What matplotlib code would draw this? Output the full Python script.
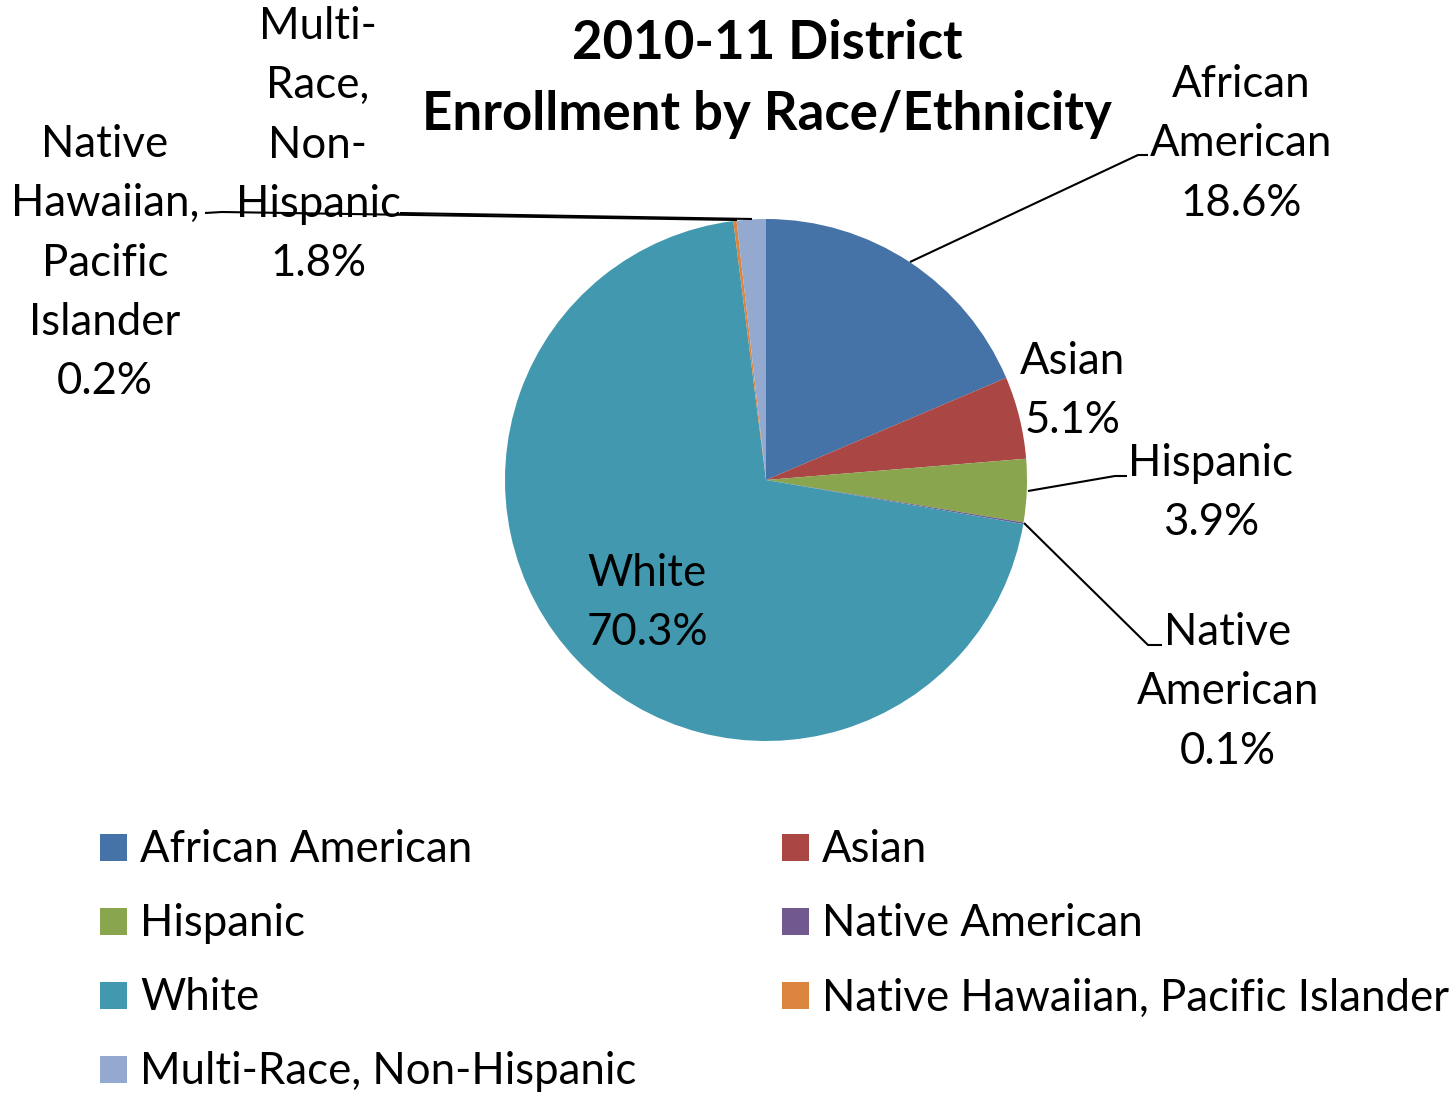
import matplotlib.pyplot as plt
from matplotlib.patches import Rectangle

plt.rcParams['font.family'] = ['Lato', 'DejaVu Sans']

categories = ['African American', 'Asian', 'Hispanic', 'Native American',
              'White', 'Native Hawaiian, Pacific Islander', 'Multi-Race, Non-Hispanic']
shares = [18.6, 5.1, 3.9, 0.1, 70.3, 0.2, 1.8]
colors = ['#4572A7', '#AA4643', '#89A54E', '#71588F', '#4198AF', '#DB843D', '#93A9CF']
slice_labels = ['African\nAmerican', 'Asian', 'Hispanic', 'Native\nAmerican',
                'White', 'Native\nHawaiian,\nPacific\nIslander', 'Multi-\nRace,\nNon-\nHispanic']

W, H = 1456, 1094
fig = plt.figure(figsize=(W / 100, H / 100), dpi=100)
ax = fig.add_axes([0, 0, 1, 1])


def Y(y):
    return H - y


ax.pie(shares, colors=colors, startangle=90, counterclock=False,
       center=(766, Y(480)), radius=261, frame=True,
       wedgeprops=dict(linewidth=0))
ax.set_xlim(0, W)
ax.set_ylim(0, H)
ax.set_aspect('equal')
ax.axis('off')

fs = 31.5
ax.text(767, Y(79), '2010-11 District\nEnrollment by Race/Ethnicity', ha='center',
        va='center', fontsize=38, fontweight='bold', linespacing=1.55)

# label positions (centre of text block) and leader lines
label_pos = [(1241, 144), (1073, 391), (1211, 493), (1228, 692),
             (647, 603), (105, 263), (318, 145)]
leaders = [
    [(910, 262), (1138, 155), (1148, 155)],
    None,
    [(1028, 491), (1115, 476), (1127, 476)],
    [(1024, 523), (1148, 645), (1162, 645)],
    None,
    [(205, 213), (222, 212), (737, 220)],
    [(400, 213), (752, 219)],
]
for name, val, (lx, ly), pts in zip(slice_labels, shares, label_pos, leaders):
    ax.text(lx, Y(ly), f'{name}\n{val:.1f}%', ha='center', va='center',
            fontsize=fs, linespacing=1.55)
    if pts:
        ax.plot([p[0] for p in pts], [Y(p[1]) for p in pts], color='black', lw=1.5,
                solid_capstyle='butt')

# legend, two columns
for i, (name, c) in enumerate(zip(categories, colors)):
    col, row = i % 2, i // 2
    x0 = 100 + col * 682
    yc = 848 + row * 74
    ax.add_patch(Rectangle((x0, Y(yc) - 13), 27, 27, color=c, lw=0))
    ax.text(x0 + 40, Y(yc + 2), name, ha='left', va='center', fontsize=fs)

fig.savefig('out.png', dpi=100)
